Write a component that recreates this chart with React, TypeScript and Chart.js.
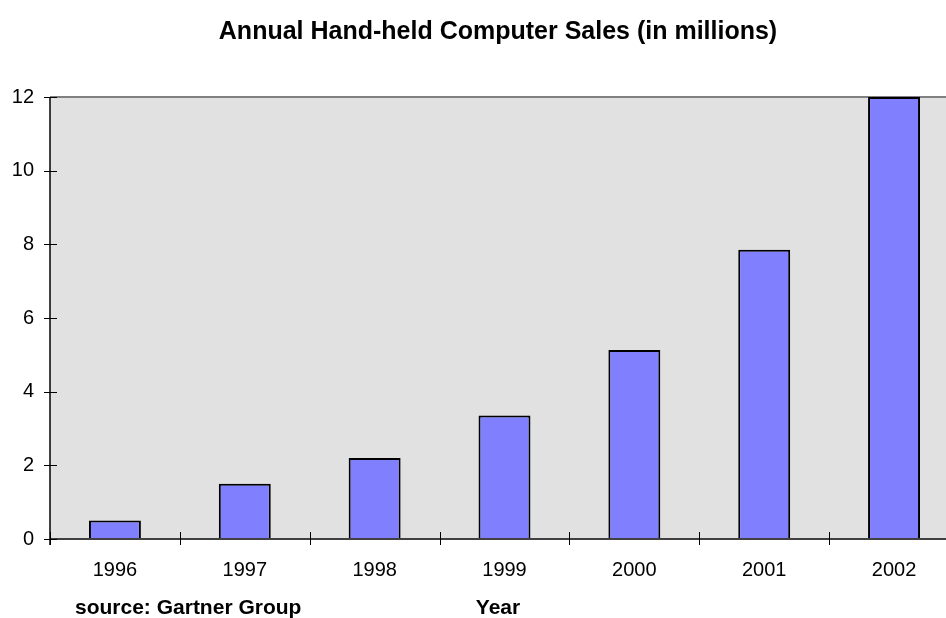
import React, { useEffect, useRef } from "react";
import { Chart, registerables } from "chart.js";

Chart.register(...registerables);

const years = ["1996", "1997", "1998", "1999", "2000", "2001", "2002"];
const sales = [0.5, 1.5, 2.2, 3.35, 5.13, 7.85, 12];
const yTicks = [0, 2, 4, 6, 8, 10, 12];
const titleText = "Annual Hand-held Computer Sales (in millions)";
const xTitle = "Year";
const sourceText = "source: Gartner Group";

const FONT = "'Liberation Sans', Arial, Helvetica, sans-serif";

const framePlugin = {
  id: "frame",
  beforeDatasetsDraw(chart: any) {
    const { ctx, chartArea } = chart;
    ctx.save();
    ctx.fillStyle = "#E1E1E1";
    ctx.fillRect(chartArea.left, chartArea.top, chartArea.right - chartArea.left, chartArea.bottom - chartArea.top);
    ctx.strokeStyle = "#808080";
    ctx.lineWidth = 2;
    ctx.beginPath();
    ctx.moveTo(chartArea.left, chartArea.top);
    ctx.lineTo(chartArea.right, chartArea.top);
    ctx.lineTo(chartArea.right, chartArea.bottom);
    ctx.stroke();
    ctx.restore();
  },
  afterDatasetsDraw(chart: any) {
    const { ctx, chartArea, scales } = chart;
    const x = scales.x;
    const y = scales.y;
    ctx.save();
    // chart title
    ctx.fillStyle = "#000";
    ctx.font = `bold 25px ${FONT}`;
    ctx.textAlign = "center";
    ctx.textBaseline = "alphabetic";
    ctx.fillText(titleText, chart.width / 2, 31);
    // bottom axis
    ctx.strokeStyle = "#404040";
    ctx.lineWidth = 2;
    ctx.beginPath();
    ctx.moveTo(chartArea.left, chartArea.bottom);
    ctx.lineTo(chartArea.right, chartArea.bottom);
    ctx.stroke();
    // left axis
    ctx.strokeStyle = "#000";
    ctx.lineWidth = 1.5;
    ctx.beginPath();
    ctx.moveTo(chartArea.left, chartArea.top);
    ctx.lineTo(chartArea.left, chartArea.bottom + 6);
    ctx.stroke();
    // y ticks
    ctx.lineWidth = 1;
    ctx.strokeStyle = "#000";
    ctx.beginPath();
    yTicks.forEach((v) => {
      const py = Math.round(y.getPixelForValue(v)) + 0.5;
      ctx.moveTo(chartArea.left - 6, py);
      ctx.lineTo(chartArea.left + 7, py);
    });
    // x ticks at category boundaries
    const half = (x.getPixelForValue(1) - x.getPixelForValue(0)) / 2;
    for (let i = 0; i <= years.length; i++) {
      const px = Math.round(x.getPixelForValue(i) - half) + 0.5;
      ctx.moveTo(px, chartArea.bottom - 7);
      ctx.lineTo(px, chartArea.bottom + 6);
    }
    ctx.stroke();
    // bottom texts
    ctx.fillStyle = "#000";
    ctx.font = `bold 21px ${FONT}`;
    ctx.textBaseline = "alphabetic";
    ctx.textAlign = "left";
    ctx.fillText(sourceText, chartArea.left + 25, chart.height - 4);
    ctx.textAlign = "center";
    ctx.fillText(xTitle, chart.width / 2, chart.height - 4);
    ctx.restore();
  },
};

export default function App() {
  const ref = useRef<HTMLCanvasElement | null>(null);
  useEffect(() => {
    if (!ref.current) return;
    const chart = new Chart(ref.current, {
      type: "bar",
      data: {
        labels: years,
        datasets: [
          {
            data: sales,
            backgroundColor: "#8080FF",
            borderColor: "#000000",
            borderWidth: 2,
            barPercentage: 0.4,
            categoryPercentage: 1,
          },
        ],
      },
      options: {
        animation: false,
        responsive: true,
        maintainAspectRatio: false,
        layout: { padding: { left: 0, right: 29, top: 89, bottom: 0 } },
        plugins: {
          legend: { display: false },
          tooltip: { enabled: false },
          title: { display: false },
        },
        scales: {
          x: {
            grid: { display: false, drawTicks: false },
            border: { display: false },
            ticks: { color: "#000", font: { family: FONT, size: 20 }, padding: 19, maxRotation: 0 },
            afterFit: (s: any) => {
              s.height = 79;
            },
          },
          y: {
            min: 0,
            max: 12,
            grid: { display: false, drawTicks: false },
            border: { display: false },
            ticks: {
              stepSize: 2,
              color: "#000",
              font: { family: FONT, size: 20 },
              padding: 16,
            },
            afterFit: (s: any) => {
              s.width = 42;
            },
          },
        },
      },
      plugins: [framePlugin],
    });
    return () => chart.destroy();
  }, []);
  return (
    <div
      style={{
        position: "fixed",
        left: 0,
        top: 0,
        width: 946,
        height: 618,
        overflow: "hidden",
        background: "#fff",
      }}
    >
      <div style={{ position: "absolute", left: 8, top: 8, width: 980, height: 610 }}>
        <canvas ref={ref} />
      </div>
    </div>
  );
}
